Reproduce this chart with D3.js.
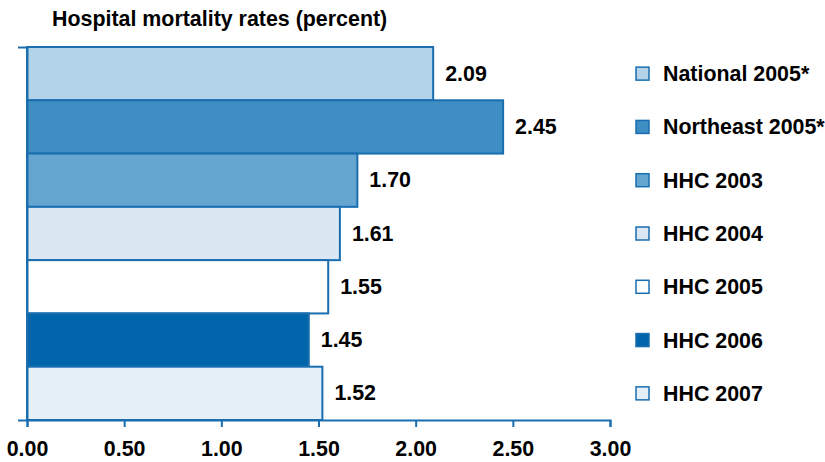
<!DOCTYPE html>
<html>
<head>
<meta charset="utf-8">
<script src="https://cdn.jsdelivr.net/npm/d3@7"></script>
<style>
	body { margin: 0; background: #fff; }
	svg text { font-family: "Liberation Sans", Arial, sans-serif; font-weight: bold; fill: #000; }
</style>
</head>
<body>
<svg id="chart" width="825" height="462"></svg>
<script>
//------------------------------------------------------------------------------
// Data

var categories = ['National 2005*', 'Northeast 2005*', 'HHC 2003', 'HHC 2004', 'HHC 2005', 'HHC 2006', 'HHC 2007'];
var rates      = [2.09, 2.45, 1.70, 1.61, 1.55, 1.45, 1.52];
var fills      = ['#b3d3e8', '#3e8ec3', '#64a6d0', '#dbe7f3', '#ffffff', '#0065ab', '#e5eff7'];
var xTicks     = [0, 0.5, 1, 1.5, 2, 2.5, 3];
var title      = 'Hospital mortality rates (percent)';

//------------------------------------------------------------------------------
// Setup

var svg = d3.select('#chart');
var edge = '#1a6eb0';
var fontSize = '21.4px';

var x = d3.scaleLinear().domain([0, 3]).range([27, 610]);
var y = d3.scaleBand().domain(categories).range([47, 420]).padding(0);
var rows = categories.map(function (c, i) { return { name: c, value: rates[i], fill: fills[i] }; });

svg.append('text')
	.attr('x', 52).attr('y', 26)
	.style('font-size', fontSize)
	.text(title);

//------------------------------------------------------------------------------
// Bars

svg.append('g').selectAll('rect')
	.data(rows)
	.join('rect')
		.attr('x', x(0))
		.attr('y', function (d) { return y(d.name); })
		.attr('width', function (d) { return x(d.value) - x(0); })
		.attr('height', y.bandwidth())
		.attr('fill', function (d) { return d.fill; })
		.attr('stroke', edge)
		.attr('stroke-width', 2)
;

svg.append('g').selectAll('text')
	.data(rows)
	.join('text')
		.attr('x', function (d) { return x(d.value) + 12; })
		.attr('y', function (d) { return y(d.name) + y.bandwidth() / 2 + 7; })
		.style('font-size', fontSize)
		.text(function (d) { return d.value.toFixed(2); })
;

//------------------------------------------------------------------------------
// Axes

var gy = svg.append('g')
	.attr('transform', 'translate(' + x(0) + ',0)')
	.call(d3.axisLeft(y).tickSize(0).tickSizeOuter(9).tickFormat(''));

var gx = svg.append('g')
	.attr('transform', 'translate(0,' + 420 + ')')
	.call(d3.axisBottom(x).tickValues(xTicks).tickSize(7).tickSizeOuter(7).tickFormat(d3.format('.2f')));

[gx, gy].forEach(function (g) {
	g.select('.domain').attr('stroke', edge).attr('stroke-width', 2);
	g.selectAll('.tick line').attr('stroke', edge).attr('stroke-width', 2);
});
gx.selectAll('.tick text')
	.attr('y', 21)
	.attr('dy', '0.71em')
	.style('font-size', fontSize)
	.style('font-family', '"Liberation Sans", Arial, sans-serif')
	.attr('fill', '#000');

//------------------------------------------------------------------------------
// Legend

var legend = svg.append('g').selectAll('g')
	.data(rows)
	.join('g')
		.attr('transform', function (d) { return 'translate(636,' + (y(d.name) + y.bandwidth() / 2) + ')'; });

legend.append('rect')
	.attr('x', 0).attr('y', -6.5)
	.attr('width', 13).attr('height', 13)
	.attr('fill', function (d) { return d.fill; })
	.attr('stroke', edge)
	.attr('stroke-width', 1.5);

legend.append('text')
	.attr('x', 27).attr('y', 7.5)
	.style('font-size', fontSize)
	.text(function (d) { return d.name; });
</script>
</body>
</html>
